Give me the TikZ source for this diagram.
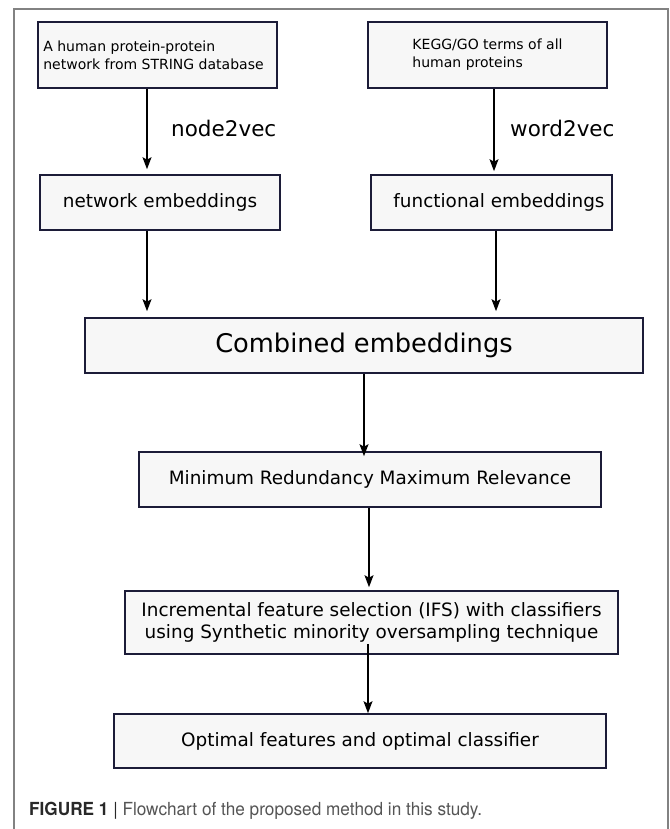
\documentclass[tikz,border=0pt]{standalone}
\usepackage{fontspec}
\setmainfont{DejaVu Sans}
\newfontfamily\capfont{TeX Gyre Heros}
\usetikzlibrary{arrows.meta}
\definecolor{boxfill}{RGB}{247,247,247}
\definecolor{boxline}{RGB}{28,28,56}
\definecolor{framegray}{RGB}{130,130,130}
\definecolor{captext}{RGB}{85,85,85}
\definecolor{capbold}{RGB}{40,40,40}
\begin{document}
\begin{tikzpicture}[x=1pt,y=-1pt,
  box/.style={draw=boxline, fill=boxfill, line width=1.6pt, inner sep=0pt, align=center,
    font=\fontsize{18.4}{22}\selectfont},
  smallbox/.style={box, align=left, font=\fontsize{14}{18}\selectfont},
  arr/.style={draw=black, line width=1.4pt, -{Stealth[length=12pt,width=9pt,inset=2.5pt]}},
  steplabel/.style={inner sep=0pt, anchor=base west, font=\fontsize{21.5}{24}\selectfont}]
\useasboundingbox (0,0) rectangle (669,829);
\fill[white] (0,0) rectangle (669,829);
\draw[framegray, line width=1.5pt] (14,829) -- (14,9) -- (668,9) -- (668,829);

\node[smallbox, minimum width=239pt, minimum height=66pt] (A) at (157.5,55)
  {A human protein-protein\\network from STRING database\hspace*{8pt}};
\node[smallbox, minimum width=239pt, minimum height=66pt] (B) at (487.5,55)
  {KEGG/GO terms of all\\human proteins};
\node[box, minimum width=240pt, minimum height=55pt] (C) at (160,202.5) {network embeddings};
\node[box, minimum width=241pt, minimum height=55pt] (D) at (491.5,202.5) {\hspace*{15pt}functional embeddings};
\node[box, minimum width=558pt, minimum height=55pt, font=\fontsize{25.7}{30}\selectfont] (E) at (364,345.5) {Combined embeddings};
\node[box, minimum width=462pt, minimum height=55pt] (F) at (370,479.5) {Minimum Redundancy Maximum Relevance};
\node[box, minimum width=493pt, minimum height=63pt] (G) at (371.5,622.5)
  {Incremental feature selection (IFS) with classifiers\\using Synthetic minority oversampling technique};
\node[box, minimum width=492pt, minimum height=54pt] (H) at (360,741) {Optimal features and optimal classifier};

\node[steplabel] (n2v) at (171,137) {node2vec};
\node[steplabel] (w2v) at (510,137) {word2vec};

\coordinate (xa) at (147,0);
\coordinate (xb) at (494,0);
\coordinate (xd) at (496,0);
\coordinate (xe) at (364,0);
\coordinate (xf) at (369,0);
\coordinate (xg) at (368,0);

\draw[arr, shorten >=5pt] (A.south -| xa) -- (C.north -| xa);
\draw[arr, shorten >=3pt] (B.south -| xb) -- (D.north -| xb);
\draw[arr, shorten >=6pt] (C.south -| xa) -- (E.north -| xa);
\draw[arr, shorten >=6pt] (D.south -| xd) -- (E.north -| xd);
\draw[arr, shorten >=-5pt] (E.south -| xe) -- (F.north -| xe);
\draw[arr, shorten >=3pt] (F.south -| xf) -- (G.north -| xf);
\draw[arr, shorten <=-11pt] (G.south -| xg) -- (H.north -| xg);

\node[inner sep=0pt, anchor=base west, font=\capfont\fontsize{18}{22}\selectfont] (cap) at (29,815)
  {\scalebox{0.955}[1]{\textcolor{capbold}{\bfseries FIGURE 1 {\mdseries|}} \textcolor{captext}{Flowchart of the proposed method in this study.}}};
\end{tikzpicture}
\end{document}
